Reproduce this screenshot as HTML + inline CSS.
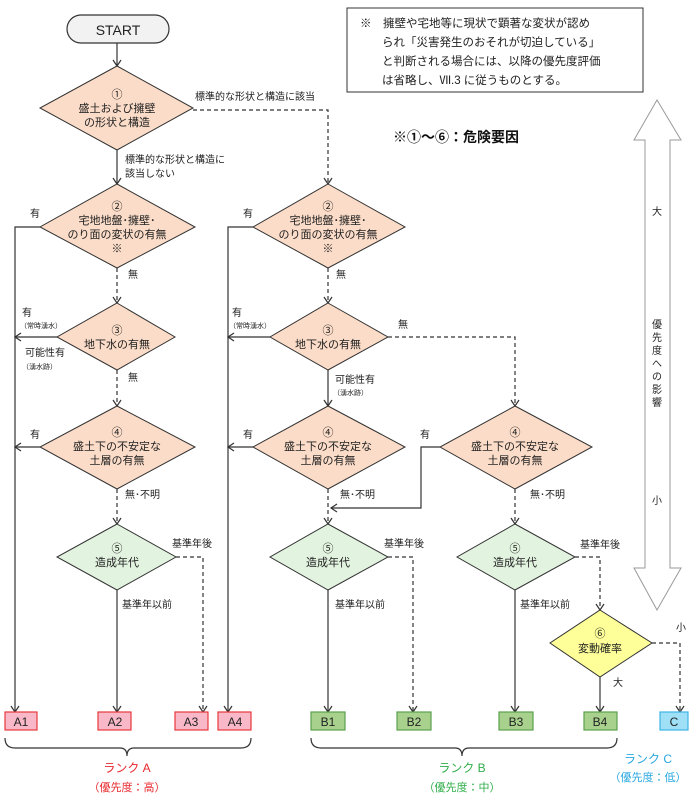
<!DOCTYPE html>
<html><head><meta charset="utf-8"><style>
body{margin:0;background:#fff;}
svg{display:block;font-family:"Liberation Sans","Noto Sans CJK JP",sans-serif;}
</style></head><body>
<svg width="689" height="802" viewBox="0 0 689 802" xmlns="http://www.w3.org/2000/svg">
<defs>
<marker id="ar" markerWidth="10" markerHeight="10" refX="8" refY="5" orient="auto" markerUnits="userSpaceOnUse" viewBox="0 0 10 10">
<path d="M2,1 L8,5 L2,9" fill="none" stroke="#333" stroke-width="1.2"/></marker>
</defs>
<g stroke="#333" stroke-width="1.2" fill="none">
<line x1="117" y1="43" x2="117" y2="66" marker-end="url(#ar)"/>
<line x1="117" y1="150" x2="117" y2="184" marker-end="url(#ar)"/>
<polyline points="193,110 328,110 328,184" stroke-dasharray="4,3" marker-end="url(#ar)"/>
<!-- col a -->
<polyline points="40,227 15,227 15,712" marker-end="url(#ar)"/>
<line x1="117" y1="268" x2="117" y2="303" stroke-dasharray="4,3" marker-end="url(#ar)"/>
<line x1="57" y1="337" x2="15" y2="337" marker-end="url(#ar)"/>
<line x1="117" y1="370" x2="117" y2="406" stroke-dasharray="4,3" marker-end="url(#ar)"/>
<line x1="40" y1="447" x2="15" y2="447" marker-end="url(#ar)"/>
<line x1="117" y1="489" x2="117" y2="524" stroke-dasharray="4,3" marker-end="url(#ar)"/>
<line x1="117" y1="590" x2="117" y2="712" marker-end="url(#ar)"/>
<polyline points="176,557 203,557 203,712" stroke-dasharray="4,3" marker-end="url(#ar)"/>
<!-- col b -->
<polyline points="253,227 228,227 228,712" marker-end="url(#ar)"/>
<line x1="328" y1="268" x2="328" y2="303" stroke-dasharray="4,3" marker-end="url(#ar)"/>
<line x1="270" y1="337" x2="228" y2="337" marker-end="url(#ar)"/>
<line x1="328" y1="370" x2="328" y2="406" marker-end="url(#ar)"/>
<line x1="253" y1="447" x2="228" y2="447" marker-end="url(#ar)"/>
<line x1="328" y1="489" x2="328" y2="524" stroke-dasharray="4,3" marker-end="url(#ar)"/>
<line x1="328" y1="590" x2="328" y2="712" marker-end="url(#ar)"/>
<polyline points="388,557 413,557 413,712" stroke-dasharray="4,3" marker-end="url(#ar)"/>
<!-- col c -->
<polyline points="388,337 515,337 515,406" stroke-dasharray="4,3" marker-end="url(#ar)"/>
<polyline points="440,447 421,447 421,508 331,508" marker-end="url(#ar)"/>
<line x1="515" y1="489" x2="515" y2="524" stroke-dasharray="4,3" marker-end="url(#ar)"/>
<line x1="515" y1="590" x2="515" y2="712" marker-end="url(#ar)"/>
<polyline points="575,557 600,557 600,610" stroke-dasharray="4,3" marker-end="url(#ar)"/>
<line x1="600" y1="677" x2="600" y2="712" marker-end="url(#ar)"/>
<polyline points="652,643 680,643 680,712" stroke-dasharray="4,3" marker-end="url(#ar)"/>
<!-- braces -->
<path d="M5,738 Q5,748 15,748 L120,748 Q127,748 127,756 Q127,748 134,748 L241,748 Q251,748 251,738"/>
<path d="M311,738 Q311,748 321,748 L455,748 Q462,748 462,756 Q462,748 469,748 L607,748 Q617,748 617,738"/>
</g>
<rect x="67" y="15" width="102" height="28" rx="14" fill="#f2f2f2" stroke="#333" stroke-width="1.2"/>
<text x="118" y="35" font-size="14" text-anchor="middle" fill="#222">START</text>
<g stroke="#333" stroke-width="1" fill="#fbdcc8">
<polygon points="117,66 193,108 117,150 40,108"/>
<polygon points="117,184 195,227 117,268 40,227"/>
<polygon points="117,303 175,337 117,370 57,337"/>
<polygon points="117,406 195,447 117,489 40,447"/>
<polygon points="328,184 405,227 328,268 253,227"/>
<polygon points="328,303 388,337 328,370 270,337"/>
<polygon points="328,406 405,447 328,489 253,447"/>
<polygon points="515,406 592,447 515,489 440,447"/>
</g>
<g stroke="#333" stroke-width="1" fill="#e2f4e0">
<polygon points="117,524 176,557 117,590 57,557"/>
<polygon points="328,524 388,557 328,590 270,557"/>
<polygon points="515,524 575,557 515,590 457,557"/>
</g>
<polygon points="600,610 652,643 600,677 550,643" fill="#ffff99" stroke="#333" stroke-width="1"/>
<g font-size="11" fill="#222" text-anchor="middle">
<text x="117" y="98">①</text><text x="117" y="112">盛土および擁壁</text><text x="117" y="126">の形状と構造</text>
<text x="117" y="210">②</text><text x="117" y="224">宅地地盤･擁壁･</text><text x="117" y="238">のり面の変状の有無</text><text x="117" y="252">※</text>
<text x="117" y="334">③</text><text x="117" y="348">地下水の有無</text>
<text x="117" y="436">④</text><text x="117" y="450">盛土下の不安定な</text><text x="117" y="464">土層の有無</text>
<text x="117" y="552">⑤</text><text x="117" y="566">造成年代</text>
<text x="328" y="210">②</text><text x="328" y="224">宅地地盤･擁壁･</text><text x="328" y="238">のり面の変状の有無</text><text x="328" y="252">※</text>
<text x="328" y="334">③</text><text x="328" y="348">地下水の有無</text>
<text x="328" y="436">④</text><text x="328" y="450">盛土下の不安定な</text><text x="328" y="464">土層の有無</text>
<text x="328" y="552">⑤</text><text x="328" y="566">造成年代</text>
<text x="515" y="436">④</text><text x="515" y="450">盛土下の不安定な</text><text x="515" y="464">土層の有無</text>
<text x="515" y="552">⑤</text><text x="515" y="566">造成年代</text>
<text x="600" y="637">⑥</text><text x="600" y="652">変動確率</text>
</g>
<g font-size="10" fill="#222">
<text x="195" y="100">標準的な形状と構造に該当</text>
<text x="125" y="163">標準的な形状と構造に</text><text x="125" y="177">該当しない</text>
<text x="30" y="217">有</text><text x="128" y="278">無</text>
<text x="22" y="316">有</text><text x="20" y="328" font-size="7">（常時湧水）</text>
<text x="25" y="356">可能性有</text><text x="22" y="369" font-size="7">（湧水跡）</text>
<text x="128" y="381">無</text>
<text x="30" y="438">有</text><text x="125" y="498">無･不明</text>
<text x="172" y="547">基準年後</text><text x="122" y="608">基準年以前</text>
<text x="243" y="217">有</text><text x="336" y="278">無</text>
<text x="232" y="316">有</text><text x="229" y="328" font-size="7">（常時湧水）</text>
<text x="398" y="328">無</text>
<text x="335" y="383">可能性有</text><text x="333" y="395" font-size="7">（湧水跡）</text>
<text x="243" y="438">有</text><text x="420" y="438">有</text>
<text x="340" y="498">無･不明</text><text x="530" y="498">無･不明</text>
<text x="384" y="547">基準年後</text><text x="335" y="608">基準年以前</text>
<text x="580" y="548">基準年後</text><text x="520" y="608">基準年以前</text>
<text x="676" y="631">小</text><text x="613" y="686">大</text>
</g>
<rect x="347" y="8" width="296" height="84" fill="#fff" stroke="#333" stroke-width="1"/>
<g font-size="11.5" fill="#222">
<text x="360" y="27">※　擁壁や宅地等に現状で顕著な変状が認め</text>
<text x="382" y="46">られ「災害発生のおそれが切迫している」</text>
<text x="382" y="65">と判断される場合には、以降の優先度評価</text>
<text x="382" y="84">は省略し、Ⅶ.3 に従うものとする。</text>
</g>
<text x="393" y="142" font-size="14" font-weight="bold" fill="#111">※①～⑥：危険要因</text>
<path d="M657,100 L681,140 L670,140 L670,568 L681,568 L657,610 L634,568 L645,568 L645,140 L634,140 Z" fill="#fff" stroke="#999" stroke-width="1"/>
<g font-size="10" fill="#222" text-anchor="middle">
<text x="657" y="215">大</text>
<text x="657" y="328">優</text><text x="657" y="341">先</text><text x="657" y="354">度</text><text x="657" y="367">へ</text><text x="657" y="380">の</text><text x="657" y="393">影</text><text x="657" y="406">響</text>
<text x="657" y="504">小</text>
</g>
<g font-size="12" text-anchor="middle" fill="#222">
<g fill="#f8b8c8" stroke="#e8383d" stroke-width="1.2">
<rect x="5" y="712" width="32" height="18"/><rect x="98" y="712" width="33" height="18"/><rect x="175" y="712" width="33" height="18"/><rect x="218" y="712" width="33" height="18"/></g>
<text x="21" y="726">A1</text><text x="115" y="726">A2</text><text x="191" y="726">A3</text><text x="235" y="726">A4</text>
<g fill="#a9d18e" stroke="#5ba04c" stroke-width="1.2">
<rect x="311" y="712" width="34" height="18"/><rect x="397" y="712" width="34" height="18"/><rect x="499" y="712" width="34" height="18"/><rect x="584" y="712" width="33" height="18"/></g>
<text x="328" y="726">B1</text><text x="414" y="726">B2</text><text x="516" y="726">B3</text><text x="600" y="726">B4</text>
<rect x="660" y="712" width="28" height="18" fill="#9fe0f7" stroke="#3cb4e6" stroke-width="1.2"/>
<text x="674" y="726">C</text>
</g>
<g font-size="12" text-anchor="middle">
<text x="127" y="772" fill="#e8282d">ランク A</text><text x="127" y="791" font-size="11" fill="#e8282d">（優先度：高）</text>
<text x="462" y="772" fill="#2fae4a">ランク B</text><text x="462" y="791" font-size="11" fill="#2fae4a">（優先度：中）</text>
<text x="648" y="763" fill="#29a8e0">ランク C</text><text x="648" y="781" font-size="11" fill="#29a8e0">（優先度：低）</text>
</g>
</svg>
</body></html>
